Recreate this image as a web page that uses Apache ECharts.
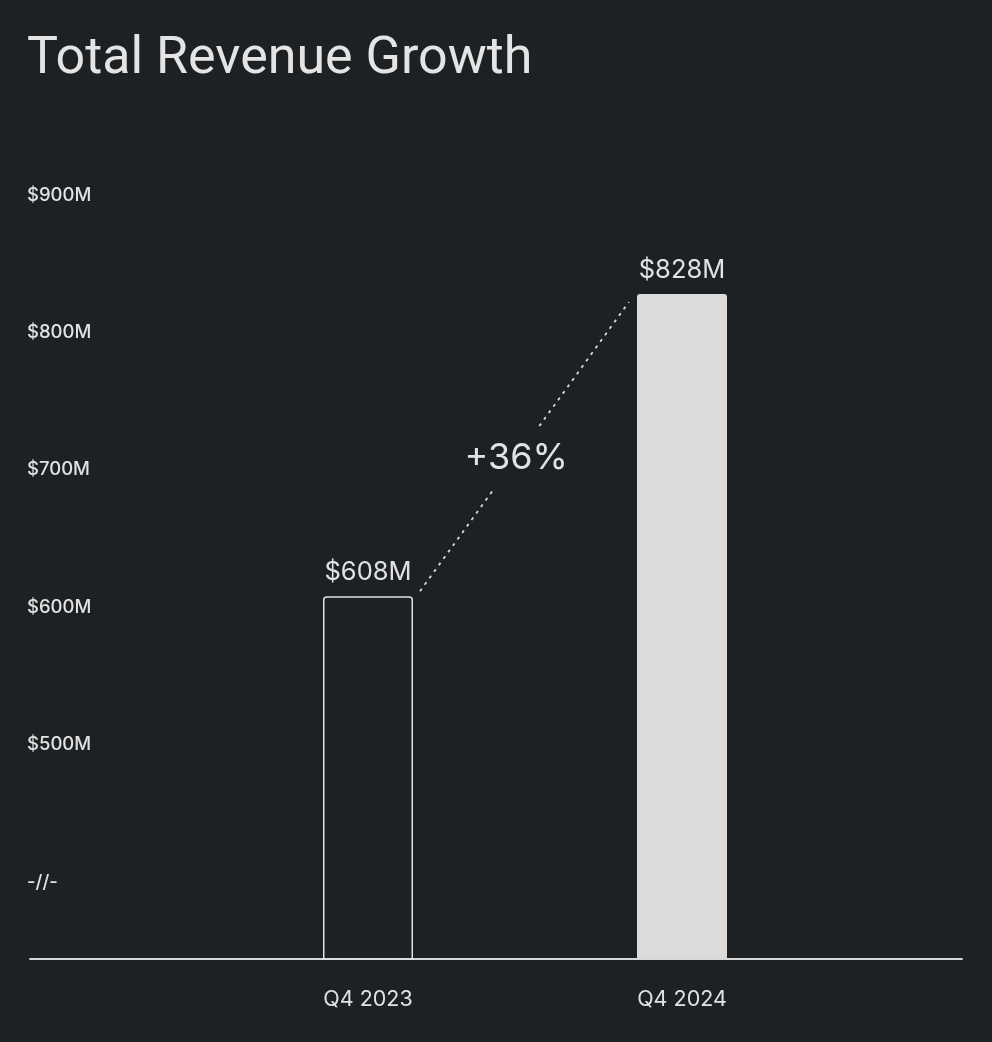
<!DOCTYPE html>
<html>
<head>
<meta charset="utf-8">
<script src="https://cdn.jsdelivr.net/npm/echarts@6/dist/echarts.min.js"></script>
<style>
  html, body { margin: 0; padding: 0; background: #1e2124; }
  #chart { width: 992px; height: 1042px; }
</style>
</head>
<body>
<div id="chart"></div>
<script>
// values
var categories = ['Q4 2023', 'Q4 2024'];
var revenue = [608, 828];          // $M
var yTicks = [400, 500, 600, 700, 800, 900];
var breakTick = 400;               // shown as the axis break mark

var BAR_W = 90;
var TEXT = '#e2e2e2';
var FONT = 'Inter, "Noto Sans", sans-serif';

var growth = Math.round((revenue[1] / revenue[0] - 1) * 100);

var chart = echarts.init(document.getElementById('chart'));

function renderConnector(params, api) {
    var a = api.coord([api.value(0), api.value(1)]);
    var b = api.coord([api.value(2), api.value(3)]);
    var x1 = a[0] + BAR_W / 2 + 7, y1 = a[1] - 5;
    var x2 = b[0] - BAR_W / 2 - 8, y2 = b[1] + 8;
    var at = function(t) { return [x1 + (x2 - x1) * t, y1 + (y2 - y1) * t]; };
    var p1 = at(0.357), p2 = at(0.571), pt = at(0.46);
    var dash = { stroke: '#dcdcdc', lineWidth: 1.8, lineDash: [3, 5] };
    return {
        type: 'group',
        children: [
            { type: 'line', shape: { x1: x1, y1: y1, x2: p1[0], y2: p1[1] }, style: dash },
            { type: 'line', shape: { x1: p2[0], y1: p2[1], x2: x2, y2: y2 }, style: dash },
            {
                type: 'text',
                x: pt[0], y: pt[1],
                style: {
                    text: '+' + growth + '%',
                    fill: TEXT,
                    font: '400 36px ' + FONT,
                    align: 'center',
                    verticalAlign: 'middle'
                }
            }
        ]
    };
}

var option = {
    backgroundColor: '#1e2124',
    animation: false,
    title: {
        text: 'Total Revenue Growth',
        left: 22,
        top: 29,
        textStyle: { color: '#e4e4e4', fontSize: 52, fontWeight: 400, fontFamily: 'Roboto, ' + FONT }
    },
    grid: [
        { left: 211, right: 153, top: 195, bottom: 83 },
        { left: 30, right: 30, top: 195, bottom: 83 }
    ],
    xAxis: [
        {
            type: 'category', gridIndex: 0, data: categories,
            axisLine: { show: false }, axisTick: { show: false },
            axisLabel: { color: TEXT, fontSize: 21.5, fontFamily: FONT, margin: 30 }
        },
        {
            type: 'category', gridIndex: 1, data: categories,
            axisLine: { show: true, lineStyle: { color: '#d6d6d6', width: 2 } },
            axisTick: { show: false }, axisLabel: { show: false }
        }
    ],
    yAxis: [
        { type: 'value', gridIndex: 0, min: 344, max: 900, show: false, splitLine: { show: false } },
        {
            type: 'value', gridIndex: 1, min: 344, max: 900,
            axisLine: { show: false }, axisTick: { show: false }, splitLine: { show: false },
            axisLabel: {
                customValues: yTicks,
                align: 'left',
                margin: 3,
                color: TEXT,
                fontSize: 18.5,
                fontWeight: 500,
                fontFamily: FONT,
                formatter: function(v) { return v === breakTick ? '-//-' : '$' + v + 'M'; }
            }
        }
    ],
    series: [
        {
            type: 'bar',
            xAxisIndex: 0, yAxisIndex: 0,
            barWidth: BAR_W,
            data: revenue.map(function(v, i) {
                return {
                    value: v,
                    itemStyle: i === 0
                        ? { color: 'rgba(0,0,0,0)', borderColor: '#e0e0e0', borderWidth: 1.5, borderRadius: [3, 3, 0, 0] }
                        : { color: '#dcdbd9', borderRadius: [3, 3, 0, 0] }
                };
            }),
            label: {
                show: true, position: 'top', distance: 11,
                color: TEXT, fontSize: 25.5, fontFamily: FONT,
                formatter: function(p) { return '$' + p.value + 'M'; }
            },
            silent: true
        },
        {
            type: 'custom',
            xAxisIndex: 0, yAxisIndex: 0,
            data: [[0, revenue[0], 1, revenue[1]]],
            renderItem: renderConnector,
            clip: false,
            silent: true,
            z: 3
        }
    ]
};

chart.setOption(option);
</script>
</body>
</html>
